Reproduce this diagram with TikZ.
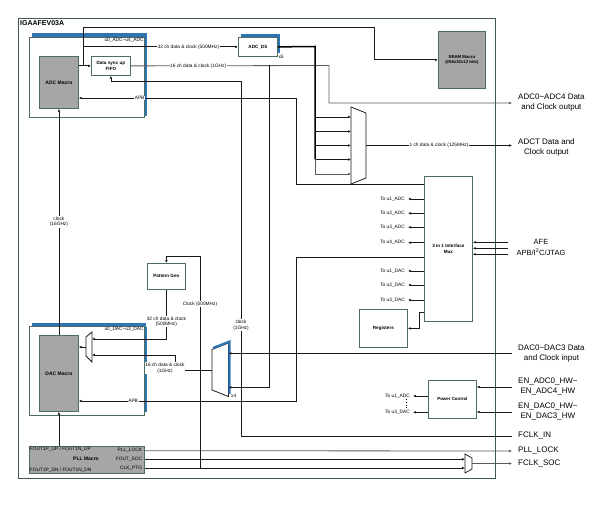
\documentclass[tikz,border=0pt]{standalone}
\usepackage{fontspec}
\setmainfont{Liberation Sans}
\usetikzlibrary{arrows.meta, calc, positioning}

\definecolor{boxline}{HTML}{4E6E5D}
\definecolor{outerline}{HTML}{3F5A4C}
\definecolor{macrofill}{HTML}{A6A6A6}
\definecolor{shadeblue}{HTML}{2E75B6}
\definecolor{wiregray}{HTML}{5A5A5A}

\tikzset{
  blk/.style={draw=boxline, line width=0.8pt, fill=white, anchor=north west,
    inner sep=0pt, align=center, font=\fontsize{4.6}{5.6}\selectfont\bfseries},
  macro/.style={blk, fill=macrofill, font=\fontsize{5}{6}\selectfont\bfseries},
  wire/.style={line width=0.8pt, draw=black!90},
  arr/.style={wire, -{Latex[length=2.8pt,width=2.5pt]}},
  lbl/.style={font=\fontsize{4.8}{5.6}\selectfont, fill=white, inner sep=0.6pt, align=center},
  port/.style={font=\fontsize{4.8}{5.6}\selectfont, inner ysep=0.5pt, inner xsep=3pt},
  pllt/.style={font=\fontsize{4.8}{5.6}\selectfont, inner sep=0.8pt},
  ext/.style={font=\fontsize{8}{10}\selectfont, anchor=west, align=center, inner xsep=6pt, inner ysep=1pt},
}

\begin{document}
\begin{tikzpicture}[x=1pt, y=-1pt]
  \useasboundingbox (0,0) rectangle (598,505);

  % chip outline
  \draw[outerline, line width=0.9pt] (18,18) rectangle (495,478);
  \node[anchor=north west, inner sep=1pt, font=\fontsize{7}{8}\selectfont\bfseries] (chip) at (19,19) {IGAAFEV03A};

  % outside signals
  \node[ext] (adcout) at (512,103) {ADC0\textasciitilde ADC4 Data\\and Clock output};
  \node[ext] (adctout) at (512,147.5) {ADCT Data and\\Clock output};
  \node[ext] (dacin) at (512,354) {DAC0\textasciitilde DAC3 Data\\and Clock input};
  \node[ext] (enadc) at (512,387) {EN\_ADC0\_HW\textasciitilde\\EN\_ADC4\_HW};
  \node[ext] (endac) at (512,412) {EN\_DAC0\_HW\textasciitilde\\EN\_DAC3\_HW};
  \node[ext] (fclkin) at (512,436) {FCLK\_IN};
  \node[ext] (lockout) at (512,451) {PLL\_LOCK};
  \node[ext] (fclksoc) at (512,463.5) {FCLK\_SOC};
  \node[font=\fontsize{7.5}{9}\selectfont, inner sep=0.5pt] (afe) at (541,242.3) {AFE};
  \node[font=\fontsize{7.5}{9}\selectfont, inner sep=0.5pt] (jtag) at (541,252.5) {APB/I\textsuperscript{2}C/JTAG};

  % ADC side
  \fill[shadeblue] (32,33) rectangle (147,116);
  \node[blk, minimum width=115pt, minimum height=80pt] (adcgrp) at (29,37) {};
  \node[port, anchor=north east, inner xsep=1pt] (adcinst) at (adcgrp.north east) {u0\_ADC\textasciitilde u4\_ADC};
  \node[macro, minimum width=39pt, minimum height=52pt] (adcm) at (39,56) {ADC Macro};
  \node[blk, minimum width=39pt, minimum height=19pt] (fifo) at (91,56) {Data sync up\\FIFO};
  \fill[shadeblue] (241,34) rectangle (280,53);
  \node[blk, minimum width=39pt, minimum height=19pt] (adcds) at (238,37) {ADC\_DS};
  \node[port, anchor=west, inner sep=0.5pt] (dsx) at (adcds.south east) {x5};
  \node[macro, minimum width=47pt, minimum height=57pt, font=\fontsize{4.3}{5.3}\selectfont\bfseries] (sram) at (438,31) {SRAM Macro\\(256x32x12 bits)};

  % DAC side
  \fill[shadeblue] (32,323) rectangle (147,412);
  \node[blk, minimum width=115pt, minimum height=89pt] (dacgrp) at (29,326) {};
  \node[port, anchor=north east, inner xsep=1pt] (dacinst) at (dacgrp.north east) {u0\_DAC\textasciitilde u3\_DAC};
  \node[macro, minimum width=39pt, minimum height=76pt] (dacm) at (39,335) {DAC Macro};
  \node[blk, minimum width=38pt, minimum height=26pt] (pg) at (147,263) {Pattern Gen};

  % control blocks
  \node[blk, minimum width=48pt, minimum height=145pt] (ifmux) at (424,176) {3 in 1 Interface\\Mux};
  \node[blk, minimum width=48pt, minimum height=38pt] (regs) at (359,309) {Registers};
  \node[blk, minimum width=48pt, minimum height=38pt, font=\fontsize{4.4}{5.4}\selectfont\bfseries] (pwr) at (428,380) {Power Control};

  % PLL
  \node[macro, minimum width=115pt, minimum height=27pt] (pll) at (29,446) {};
  \node[pllt, anchor=north west] (pllup) at (pll.north west) {FOUT1P\_UP / FOUT1N\_UP};
  \node[pllt, anchor=south west] (plldn) at (pll.south west) {FOUT1P\_DN / FOUT1N\_DN};
  \node[font=\fontsize{5}{6}\selectfont\bfseries] (pllname) at (86,459.3) {PLL Macro};
  \node[pllt, anchor=east] (plllock) at (143,450.7) {PLL\_LOCK};
  \node[pllt, anchor=east] (foutsoc) at (143,459.3) {FOUT\_SOC};
  \node[pllt, anchor=east] (clkptg) at (143,468) {CLK\_PTG};

  % ADC data paths
  \coordinate (fifotap) at (83,65.5);
  \coordinate (sramturn) at (374,27);
  \coordinate (outturn) at (329,65.5);
  \coordinate (tap16) at (269,65.5);
  \draw[arr] (adcm.east |- fifo.west) -- (fifo.west);
  \draw[arr] (fifotap) |- (sramturn) |- (sram.west);
  \draw[arr] (fifotap |- adcds.west) -- node[lbl, pos=0.68]{32 ch data \& clock (500MHz)} (adcds.west);
  \draw[arr, draw=wiregray] (fifo.east) -- node[lbl, pos=0.34]{16 ch data \& clock (1GHz)} (outturn) |- (adcout.west);

  % ADC_DS bus into the output mux
  \coordinate (busx) at (315,46.5);
  \foreach \y [count=\i] in {117,131.5,145.5,159.5,174}
    \coordinate (amin\i) at (351,\y);
  \draw[line width=1.5pt] (adcds.east) -- (busx) -- (busx |- amin4);
  \foreach \i in {1,...,4}
    \draw[arr] (busx |- amin\i) -- (amin\i);
  \draw[arr, draw=wiregray] (busx |- amin4) -- (busx |- amin5) -- (amin5);
  \draw[wire, fill=white] (351,107) -- (366,113) -- (366,178) -- (351,184) -- cycle;
  \coordinate (amout) at (366,145.5);
  \draw[arr] (amout) -- node[lbl]{1 ch data \& clock (125MHz)} (adctout.west |- amout);

  % APB from the interface mux
  \coordinate (apbadc) at (424,184);
  \coordinate (apbdac) at (424,257);
  \coordinate (apbaturn) at (296,98);
  \coordinate (apbdturn) at (296,401);
  \draw[arr] (apbadc) -| (apbaturn) -- node[lbl, pos=0.72]{APB} (adcm.east |- apbaturn);
  \draw[arr] (apbdac) -| (apbdturn) -- node[lbl, pos=0.75]{APB} (dacm.east |- apbdturn);

  % interface mux ports
  \foreach \nm/\y/\txt in {ua1/199/To u1\_ADC, ua2/213.3/To u2\_ADC, ua3/227.3/To u3\_ADC, ua4/242.7/To u4\_ADC,
                           ud1/271/To u1\_DAC, ud2/285/To u2\_DAC, ud3/300/To u3\_DAC}
    {\node[port, anchor=east] (\nm) at (408,\y) {\txt};
     \draw[arr] (ifmux.west |- \nm) -- (\nm.east);}
  \foreach \y [count=\i] in {242.3,248.3,254.3}
    {\coordinate (ifin\i) at (508,\y);
     \draw[arr] (ifin\i) -- (ifmux.east |- ifin\i);}
  \coordinate (regtap) at (424,312);
  \draw[arr] (regtap) -- ++(-5,0) |- (regs.east);

  % power control
  \draw[arr] (enadc.west) -- (pwr.east |- enadc);
  \draw[arr] (endac.west) -- (pwr.east |- endac);
  \node[port, anchor=east] (pu1) at (413,396) {To u1\_ADC};
  \node[port, anchor=east] (pu3) at (413,412.3) {To u3\_DAC};
  \draw[arr] (pwr.west |- pu1) -- (pu1.east);
  \draw[arr] (pwr.west |- pu3) -- (pu3.east);
  \draw[dotted, line width=0.7pt] ($(pu1.south east)+(-7,0.5)$) -- ($(pu3.north east)+(-7,-0.5)$);

  % DAC muxes
  \draw[wire, fill=white] (86,337) -- (92,332) -- (92,362) -- (86,356) -- cycle;
  \coordinate (sdmin1) at (92,339);
  \coordinate (sdmin2) at (92,355);
  \coordinate (sdmout) at (86,347);
  \draw[arr] (sdmout) -- (dacm.east |- sdmout);
  \draw[wire, fill=white] (212,349.5) -- (228.5,343) -- (228.5,396.5) -- (212,390) -- cycle;
  \draw[shadeblue, line width=2.2pt] (213,348) -- (229.5,341.5) -- (229.5,394);
  \coordinate (dmin1) at (228.5,353.3);
  \coordinate (dmin2) at (228.5,387.3);
  \coordinate (dmout) at (212,370);
  \coordinate (dacturn) at (175,370);
  \node[port, anchor=west, inner sep=0.5pt] (dmx) at (230.5,396) {x4};
  \draw[arr] (dacin.west |- dmin1) -- (dmin1);
  \draw[arr] (tap16) |- (dmin2);
  \draw[arr] (dmout) -- (dacturn) |- (sdmin2);
  \node[lbl] (dac16) at (165,368) {16 ch data \& clock\\(1GHz)};
  \draw[arr] (pg.south) |- node[lbl, pos=0.325]{32 ch data \& clock\\(500MHz)} (sdmin1);

  % clocks
  \coordinate (clkcol) at (241,81);
  \draw[arr] (fclkin.west) -| (clkcol) -| (fifo.south);
  \node[lbl] (clk1g) at (241,325) {clock\\(1GHz)};
  \draw[arr] (dacm.south |- pll.north) -- (dacm.south);
  \draw[arr] (dacm.north) -- node[lbl]{clock\\(16GHz)} (adcm.south);

  % PLL outputs
  \coordinate (cmin1) at (465,459.3);
  \coordinate (cmin2) at (465,468);
  \coordinate (cmout) at (472,463.5);
  \coordinate (ptgtap) at (200,468);
  \draw[arr, draw=wiregray] (pll.east |- plllock) -- (lockout.west);
  \draw[arr] (pll.east |- foutsoc) -- (cmin1);
  \draw[arr] (pll.east |- clkptg) -- (cmin2);
  \draw[wire, fill=white] (465,454) -- (472,458) -- (472,469) -- (465,473) -- cycle;
  \draw[arr, draw=wiregray] (cmout) -- (fclksoc.west);
  \draw[arr] (ptgtap) |- ($(pg.north)+(0,-7)$) -- (pg.north);
  \node[lbl] (clk500) at (200,304) {Clock (500MHz)};
\end{tikzpicture}
\end{document}
